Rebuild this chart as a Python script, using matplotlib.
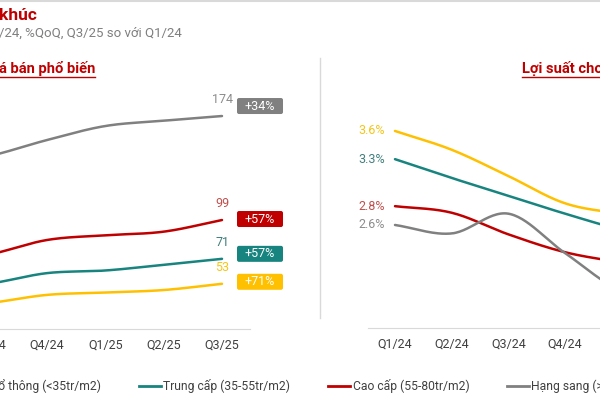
import numpy as np
import matplotlib.pyplot as plt
from matplotlib.lines import Line2D
from matplotlib.patches import FancyBboxPatch
from matplotlib.transforms import IdentityTransform

plt.rcParams['font.family'] = ['Roboto', 'DejaVu Sans']

quarters = ['Q1/24', 'Q2/24', 'Q3/24', 'Q4/24', 'Q1/25', 'Q2/25', 'Q3/25']
segments = ['Phổ thông (<35tr/m2)', 'Trung cấp (35-55tr/m2)',
            'Cao cấp (55-80tr/m2)', 'Hạng sang (>80tr/m2)']
colors = ['#FFC000', '#17847F', '#C00000', '#808080']

# gia ban (tr/m2)
price_pho_thong = [31, 35, 39, 45, 46.7, 48.5, 53]
price_trung_cap = [45, 49, 53, 60.7, 62.6, 66.7, 71]
price_cao_cap = [63, 68, 74, 84.6, 88, 90.6, 99]
price_hang_sang = [130, 138, 145, 156.7, 166.8, 170.6, 174]
growth_labels = ['+71%', '+57%', '+57%', '+34%']

# loi suat cho thue (%)
yield_pho_thong = [3.6, 3.4, 3.12, 2.83, 2.72, 2.65, 2.6]
yield_trung_cap = [3.3, 3.1, 2.91, 2.72, 2.55, 2.45, 2.4]
yield_cao_cap = [2.8, 2.73, 2.5, 2.31, 2.2, 2.1, 2.0]
yield_hang_sang = [2.6, 2.51, 2.72, 2.3, 1.9, 1.85, 1.8]

prices = [price_pho_thong, price_trung_cap, price_cao_cap, price_hang_sang]
yields = [yield_pho_thong, yield_trung_cap, yield_cao_cap, yield_hang_sang]


def smooth(vals, n=30):
    # catmull-rom style smoothing like the excel "smoothed line"
    y = np.asarray(vals, float)
    x = np.arange(len(y))
    m = np.gradient(y)
    xs, ys = [], []
    for i in range(len(y) - 1):
        t = np.linspace(0, 1, n)
        h00 = 2*t**3 - 3*t**2 + 1
        h10 = t**3 - 2*t**2 + t
        h01 = -2*t**3 + 3*t**2
        h11 = t**3 - t**2
        xs.append(x[i] + t)
        ys.append(h00*y[i] + h10*m[i] + h01*y[i+1] + h11*m[i+1])
    return np.concatenate(xs), np.concatenate(ys)


W, H = 600, 400
fig = plt.figure(figsize=(6, 4), dpi=100)

# ---- left panel: gia ban ----
axL = fig.add_axes([-160/W, 1 - 329/H, 410/W, 269/H])
axL.set_xlim(-0.55, 6.48)
axL.set_ylim(20.4, 214.4)
for vals, c in zip(prices, colors):
    sx, sy = smooth(vals)
    axL.plot(sx, sy, color=c, lw=1.8, solid_capstyle='round')

val_col = ['#F5C518', '#3F7F7C', '#C0504D', '#8C8C8C']
box_dy = [2, 5, 1, 10]
for vals, c, vc, lab, dy in zip(prices, colors, val_col, growth_labels, box_dy):
    axL.annotate(f'{vals[-1]:.0f}', (6, vals[-1]), xytext=(0, 7),
                 textcoords='offset points', ha='center', va='bottom',
                 color=vc, fontsize=9)
    px, py = axL.transData.transform((6, vals[-1]))
    cx, cy = px + 38, py + dy
    fig.patches.append(FancyBboxPatch((cx - 23, cy - 8), 46, 16,
                       boxstyle='round,pad=0,rounding_size=2',
                       transform=IdentityTransform(), fc=c, ec='none'))
    fig.text(cx / W, cy / H, lab, ha='center', va='center',
             color='white', fontsize=9)

# ---- right panel: loi suat ----
axR = fig.add_axes([368/W, 1 - 328/H, 432/W, 268/H])
axR.set_xlim(-0.476, 7.14)
axR.set_ylim(1.504, 4.355)
for vals, c, vc in zip(yields, colors, val_col):
    sx, sy = smooth(vals)
    axR.plot(sx, sy, color=c, lw=1.8, solid_capstyle='round')
    axR.annotate(f'{vals[0]:.1f}%', (0, vals[0]), xytext=(-7, 0),
                 textcoords='offset points', ha='right', va='center',
                 color=vc, fontsize=9)

for ax in (axL, axR):
    ax.set_xticks(range(len(quarters)))
    ax.set_xticklabels(quarters)
    ax.set_yticks([])
    ax.tick_params(axis='x', length=0, pad=7, labelsize=9, labelcolor='#404040')
    for s in ('left', 'right', 'top'):
        ax.spines[s].set_visible(False)
    ax.spines['bottom'].set_color('#D9D9D9')
    ax.patch.set_alpha(0)

# ---- titles ----
fig.text(-1/W, 1 - 15/H, 'khúc', ha='left', va='center',
         color='#C00000', fontsize=12.5, fontweight='bold')
fig.text(-1/W, 1 - 33/H, '/24, %QoQ, Q3/25 so với Q1/24', ha='left', va='center',
         color='#7F7F7F', fontsize=9.5)

for x0, t in [(-1, 'á bán phổ biến'), (522, 'Lợi suất cho thuê')]:
    tt = fig.text(x0/W, 1 - 68/H, t, ha='left', va='center',
                  color='#C00000', fontsize=10.6, fontweight='bold')
    r = fig.canvas.get_renderer()
    bb = tt.get_window_extent(r)
    fig.add_artist(Line2D([bb.x0/W, bb.x1/W], [1 - 76.5/H, 1 - 76.5/H],
                          color='#C00000', lw=1))

# separator + top border
fig.add_artist(Line2D([320/W, 320/W], [1 - 58/H, 1 - 318/H], color='#D9D9D9', lw=1))
fig.add_artist(Line2D([0, 1], [1 - 1/H, 1 - 1/H], color='#D9D9D9', lw=1.5))

# ---- legend ----
ly = 1 - 386/H
leg_x = [(-40, 101), (139, 163), (328, 353), (507, 531)]
for (lx, tx), lab, c in zip(leg_x, segments, colors):
    fig.add_artist(Line2D([lx/W, (lx + 22)/W], [ly, ly], color=c, lw=2))
    ha = 'right' if lx < 0 else 'left'
    fig.text(tx/W, ly, lab, ha=ha, va='center', fontsize=8.7, color='#404040')

fig.savefig('out.png', dpi=100)
